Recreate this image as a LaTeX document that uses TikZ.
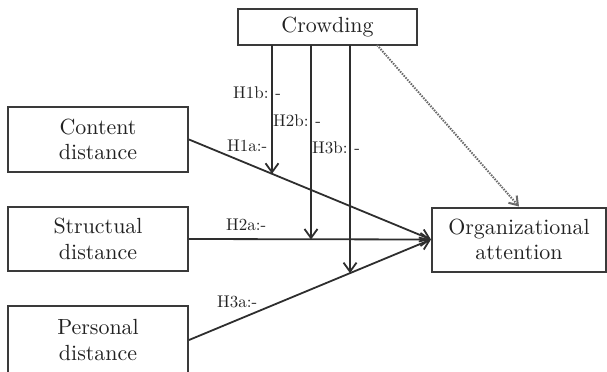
\documentclass[tikz,border=0pt]{standalone}
\usepackage{fontspec}
\usetikzlibrary{arrows.meta}
\newfontfamily\lmten{lmroman10-regular.otf}
\definecolor{boxgray}{HTML}{3A3A3A}
\definecolor{linegray}{HTML}{2E2E2E}
\definecolor{dotgray}{HTML}{6A6A6A}
\definecolor{txtgray}{HTML}{222222}
\newcommand{\boxfont}{\lmten\fontsize{22}{25.5}\selectfont}
\newcommand{\labfont}{\lmten\fontsize{17}{19}\selectfont}
\begin{document}
\begin{tikzpicture}[x=1bp,y=-1bp,
  box/.style={draw=boxgray, line width=2bp, align=center, font=\boxfont, text=txtgray, inner sep=0pt},
  conn/.style={draw=linegray, line width=1.8bp, -{Straight Barb[length=9bp,width=13bp]}},
  dotconn/.style={draw=dotgray, line width=2bp, dash pattern=on 1.5bp off 1.2bp, -{Straight Barb[length=8bp,width=11bp,sep=0pt]}},
  lab/.style={font=\labfont, text=txtgray, inner sep=0pt, anchor=west}
]
\useasboundingbox (0,0) rectangle (607,371);

% boxes
\node[box, minimum width=179bp, minimum height=36bp] (cr) at (327.5,27) {Crowding};
\node[box, minimum width=180bp, minimum height=65bp] (cd) at (98,139.5) {Content\\distance};
\node[box, minimum width=180bp, minimum height=64bp] (sd) at (98,239) {Structual\\distance};
\node[box, minimum width=180bp, minimum height=68bp] (pd) at (98,340) {Personal\\distance};
\node[box, minimum width=174bp, minimum height=64bp] (oa) at (519,239.5) {Organizational\\attention};

% helper coordinates
\coordinate (c1) at (272,45);
\coordinate (c1d) at (272,300);
\coordinate (c2) at (311,45);
\coordinate (c3) at (350,45);
\coordinate (c3d) at (350,330);
\coordinate (c4) at (377,45);
\coordinate (t1) at (intersection of cd.east--oa.west and c1--c1d);
\coordinate (t2) at (c2 |- oa.west);
\coordinate (t3) at (intersection of pd.east--oa.west and c3--c3d);

% main paths
\draw[conn] (cd.east) -- (oa.west);
\draw[conn] (sd.east) -- (oa.west);
\draw[conn] (pd.east) -- (oa.west);

% moderating paths
\draw[conn] (c1) -- (t1);
\draw[conn] (c2) -- (t2);
\draw[conn] (c3) -- (t3);
\draw[dotconn] (c4) -- (oa.north);

% labels
\node[lab] (l1b) at (233,93) {H1b:\hspace{7bp}-};
\node[lab] (l2b) at (273,121) {H2b:\hspace{7bp}-};
\node[lab] (l3b) at (312,148) {H3b:\hspace{7bp}-};
\node[lab] (l1a) at (227,146) {H1a:-};
\node[lab] (l2a) at (226,225) {H2a:-};
\node[lab] (l3a) at (217,302) {H3a:-};
\end{tikzpicture}
\end{document}
